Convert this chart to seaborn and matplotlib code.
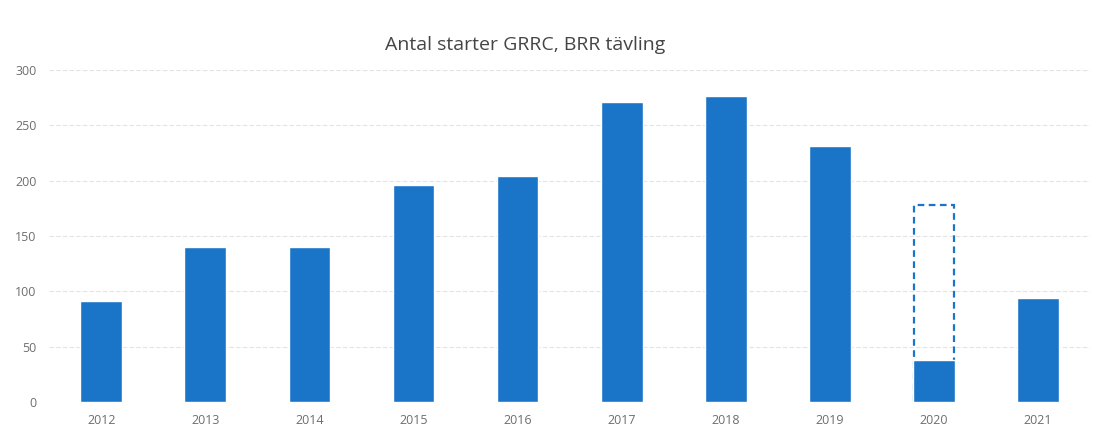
import numpy as np
import pandas as pd
import seaborn as sns
import matplotlib.pyplot as plt

# Antal starter per år
years = ['2012', '2013', '2014', '2015', '2016', '2017', '2018', '2019', '2020', '2021']
starts = [91, 140, 140, 196, 204, 271, 277, 231, 38, 94]
# förväntat antal 2020 (streckad ram)
expected_year = '2020'
expected_value = 178

df = pd.DataFrame({'year': years, 'starts': starts})

sns.set_style('white')
plt.rcParams['font.family'] = ['Open Sans', 'DejaVu Sans']

fig = plt.figure(figsize=(11.17, 4.44), dpi=100)
ax = fig.add_axes([0.044, 0.095, 0.932, 0.747])

sns.barplot(data=df, x='year', y='starts', color='#1a75c9', saturation=1,
            width=0.4, ax=ax, zorder=3)

# streckad ram för 2020
xi = years.index(expected_year)
ax.bar(xi, expected_value, width=0.38, fill=False, edgecolor='#1a75c9',
       linestyle=(0, (3, 2)), linewidth=1.6, zorder=2)

ax.set_xlim(-0.5, len(years) - 0.5)
ax.set_ylim(0, 300)
ax.set_yticks(range(0, 301, 50))
ax.yaxis.grid(True, color='#e3e3e3', linewidth=0.8, linestyle=(0, (4, 2)), zorder=0)
ax.set_axisbelow(True)
for s in ax.spines.values():
    s.set_visible(False)
ax.tick_params(axis='both', length=0, labelsize=9, labelcolor='#6e6e6e', pad=9)
ax.set_xlabel('')
ax.set_ylabel('')

fig.text(525 / 1117, 1 - 45 / 444, 'Antal starter GRRC, BRR tävling',
         ha='center', va='center', fontsize=14, color='#454545')

plt.savefig('out.png', dpi=100)
